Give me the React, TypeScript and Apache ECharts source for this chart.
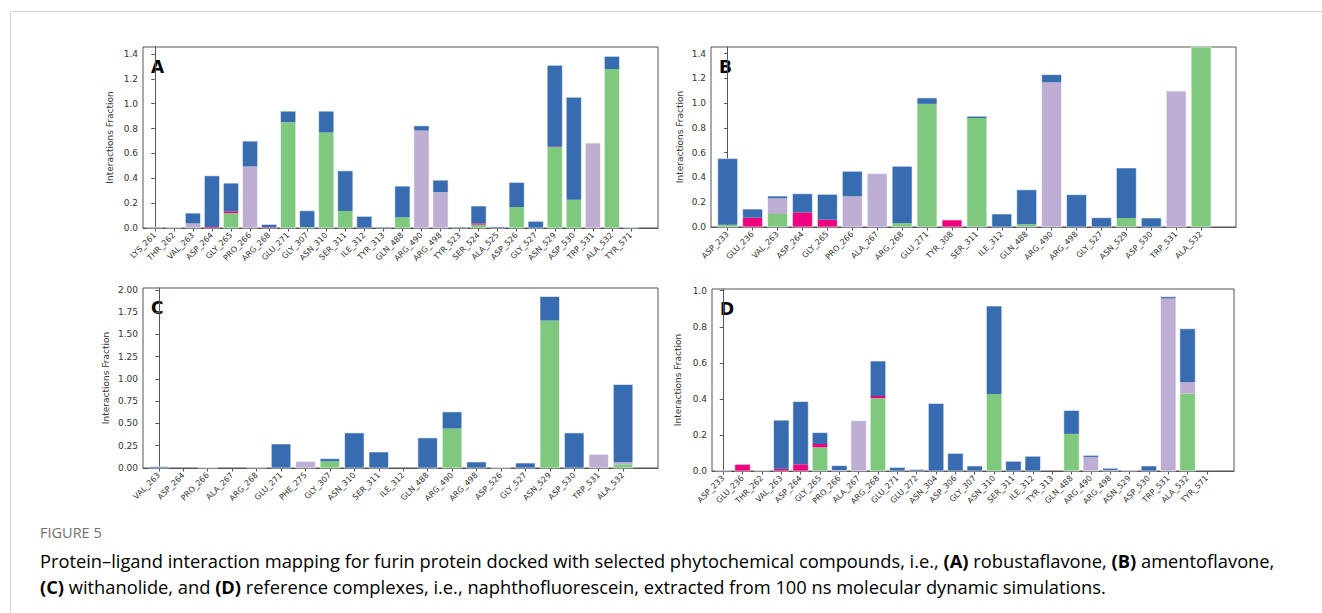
import React, { useEffect, useRef } from 'react';
import * as echarts from 'echarts';

// ---------- DATA ----------
const catsA = ['LYS_261','THR_262','VAL_263','ASP_264','GLY_265','PRO_266','ARG_268','GLU_271','GLY_307','ASN_310','SER_311','ILE_312','TYR_313','GLN_488','ARG_490','ARG_498','TYR_523','SER_524','ALA_525','ASP_526','GLY_527','ASN_529','ASP_530','TRP_531','ALA_532','TYR_571'];
const hbondA = [0,0,0,0,0.12,0,0,0.851,0.008,0.768,0.137,0,0,0.086,0,0,0,0.027,0,0.169,0,0.65,0.228,0,1.279,0];
const ionicA = [0,0,0,0.008,0.014,0,0.005,0,0,0,0,0,0,0,0,0,0,0.01,0,0,0,0.004,0,0,0,0];
const hydroA = [0,0,0.037,0,0,0.495,0,0,0,0,0,0,0,0,0.784,0.289,0,0,0,0,0,0,0,0.683,0,0];
const waterA = [0.007,0.005,0.083,0.412,0.227,0.204,0.024,0.089,0.131,0.172,0.323,0.094,0.008,0.251,0.038,0.096,0.008,0.14,0.01,0.198,0.054,0.655,0.824,0,0.102,0.005];

const catsB = ['ASP_233','GLU_236','VAL_263','ASP_264','GLY_265','PRO_266','ALA_267','ARG_268','GLU_271','TYR_308','SER_311','ILE_312','GLN_488','ARG_490','ARG_498','GLY_527','ASN_529','ASP_530','TRP_531','ALA_532'];
const hbondB = [0.019,0,0.105,0,0,0,0,0.03,0.994,0,0.88,0,0.022,0,0,0,0.073,0,0,1.5];
const ionicB = [0,0.075,0,0.118,0.059,0,0,0,0,0.057,0,0,0,0,0,0,0,0,0,0];
const hydroB = [0,0,0.127,0,0,0.248,0.431,0,0,0,0,0,0,1.168,0,0,0,0,1.098,0];
const waterB = [0.533,0.07,0.018,0.151,0.205,0.202,0,0.46,0.048,0,0.014,0.105,0.278,0.062,0.261,0.075,0.404,0.073,0,0];

const catsC = ['VAL_263','ASP_264','PRO_266','ALA_267','ARG_268','GLU_271','PHE_275','GLY_307','ASN_310','SER_311','ILE_312','GLN_488','ARG_490','ARG_498','ASP_526','GLY_527','ASN_529','ASP_530','TRP_531','ALA_532'];
const hbondC = [0,0,0,0,0,0,0,0.075,0,0,0,0,0.443,0,0,0,1.655,0,0,0.041];
const ionicC = [0,0,0,0,0,0,0,0,0,0,0,0,0,0,0,0,0,0,0,0];
const hydroC = [0,0,0.008,0,0,0,0.075,0,0,0,0,0,0,0,0,0,0,0,0.154,0.023];
const waterC = [0.015,0,0,0,0.008,0.27,0,0.03,0.394,0.18,0,0.338,0.187,0.068,0.004,0.056,0.27,0.394,0,0.874];

const catsD = ['ASP_233','GLU_236','THR_262','VAL_263','ASP_264','GLY_265','PRO_266','ALA_267','ARG_268','GLU_271','GLU_272','ASN_304','ASP_306','GLY_307','ASN_310','SER_311','ILE_312','TYR_313','GLN_488','ARG_490','ARG_498','ASN_529','ASP_530','TRP_531','ALA_532','TYR_571'];
const hbondD = [0,0,0,0,0,0.132,0,0,0.404,0,0,0,0,0,0.427,0,0,0,0.206,0,0,0,0,0,0.43,0];
const ionicD = [0,0.037,0,0.012,0.037,0.018,0,0,0.012,0,0,0,0,0,0,0,0,0,0,0,0,0,0,0,0,0];
const hydroD = [0,0,0,0,0,0,0.005,0.275,0,0,0,0,0,0,0,0,0,0,0,0.078,0.005,0,0,0.957,0.062,0];
const waterD = [0.004,0,0.003,0.27,0.349,0.063,0.025,0.003,0.194,0.02,0.009,0.375,0.098,0.028,0.488,0.054,0.082,0,0.13,0.009,0.01,0.004,0.028,0.01,0.297,0];

const ticksA = [0, 0.2, 0.4, 0.6, 0.8, 1.0, 1.2, 1.4];
const ticksB = [0, 0.2, 0.4, 0.6, 0.8, 1.0, 1.2, 1.4];
const ticksC = [0, 0.25, 0.5, 0.75, 1.0, 1.25, 1.5, 1.75, 2.0];
const ticksD = [0, 0.2, 0.4, 0.6, 0.8, 1.0];

const COLORS = ['#7fc97f', '#f0027f', '#beaed4', '#386cb0'];
const FONT = 'DejaVu Sans';

const panels = [
  { letter: 'A', cats: catsA, s: [hbondA, ionicA, hydroA, waterA], ticks: ticksA, dec: 1, ymax: 1.456,
    left: 143, top: 47, width: 515, height: 181, xl: 0.62, xr: 1.42, nameGap: 29 },
  { letter: 'B', cats: catsB, s: [hbondB, ionicB, hydroB, waterB], ticks: ticksB, dec: 1, ymax: 1.453,
    left: 711, top: 47, width: 525, height: 180, xl: 0.67, xr: 1.4, nameGap: 27 },
  { letter: 'C', cats: catsC, s: [hbondC, ionicC, hydroC, waterC], ticks: ticksC, dec: 2, ymax: 2.02,
    left: 143, top: 288, width: 515, height: 180, xl: 0.65, xr: 1.43, nameGap: 33 },
  { letter: 'D', cats: catsD, s: [hbondD, ionicD, hydroD, waterD], ticks: ticksD, dec: 1, ymax: 1.0095,
    left: 712, top: 289, width: 522, height: 182, xl: 0.58, xr: 1.4, nameGap: 30 },
];

export default function App() {
  const ref = useRef<HTMLDivElement>(null);
  useEffect(() => {
    if (!ref.current) return;
    const chart = echarts.init(ref.current, null, { renderer: 'svg' });
    const grid: any[] = [];
    const xAxis: any[] = [];
    const yAxis: any[] = [];
    const series: any[] = [];
    const graphic: any[] = [];
    panels.forEach((p, gi) => {
      const n = p.cats.length;
      const idx = p.cats.map((_, i) => i);
      grid.push({ left: p.left, top: p.top, width: p.width, height: p.height, show: true,
        borderColor: '#555', borderWidth: 1, backgroundColor: 'transparent', containLabel: false });
      xAxis.push({
        type: 'value', gridIndex: gi, min: -p.xl, max: n - 1 + p.xr,
        splitLine: { show: false },
        axisLine: { show: true, lineStyle: { color: '#555', width: 1 } },
        axisTick: { show: true, length: 3.5, lineStyle: { color: '#555' }, customValues: idx },
        axisLabel: { show: true, customValues: idx, rotate: 45, fontSize: 8, fontFamily: FONT, color: '#333', margin: 6,
          formatter: (v: number) => p.cats[Math.round(v)] ?? '' },
      });
      yAxis.push({
        type: 'value', gridIndex: gi, min: 0, max: p.ymax,
        name: 'Interactions Fraction', nameLocation: 'middle', nameGap: p.nameGap,
        nameTextStyle: { fontSize: 9, fontFamily: FONT, color: '#333' },
        splitLine: { show: false },
        axisLine: { show: true, lineStyle: { color: '#555', width: 1 } },
        axisTick: { show: true, length: 3.5, lineStyle: { color: '#555' }, customValues: p.ticks },
        axisLabel: { show: true, customValues: p.ticks, fontSize: 9, fontFamily: FONT, color: '#333', margin: 5,
          formatter: (v: number) => v.toFixed(p.dec) },
      });
      const data = p.cats.map((_, i) => [i, p.s[0][i], p.s[1][i], p.s[2][i], p.s[3][i]]);
      series.push({
        type: 'custom', xAxisIndex: gi, yAxisIndex: gi,
        dimensions: ['x', 'hb', 'io', 'hy', 'wb'],
        encode: { x: 0, y: [1, 2, 3, 4] },
        data,
        renderItem: (params: any, api: any) => {
          const x = api.value(0);
          const bw = api.size([0.8, 0])[0];
          const cs = params.coordSys;
          const children: any[] = [];
          let base = 0;
          let bottomPx = 0;
          let topPx = 0;
          for (let k = 0; k < 4; k++) {
            const v = api.value(k + 1);
            if (!(v > 0)) continue;
            const p0 = api.coord([x, base]);
            const p1 = api.coord([x, base + v]);
            const yTop = Math.max(p1[1], cs.y);
            if (base === 0) bottomPx = p0[1];
            topPx = yTop;
            children.push({ type: 'rect', shape: { x: p0[0] - bw / 2, y: yTop, width: bw, height: Math.max(p0[1] - yTop, 0) },
              style: { fill: COLORS[k] } });
            base += v;
          }
          if (base > 0) {
            const c = api.coord([x, 0]);
            children.push({ type: 'rect', shape: { x: c[0] - bw / 2, y: topPx, width: bw, height: bottomPx - topPx },
              style: { fill: 'none', stroke: 'rgba(255,255,255,0.6)', lineWidth: 1 } });
          }
          return { type: 'group', children };
        },
      });
      graphic.push({ type: 'text', x: p.left + 8, y: p.top + 20,
        style: { text: p.letter, font: 'bold 17px "DejaVu Sans"', fill: '#000', textVerticalAlign: 'middle' } });
    });

    graphic.push({ type: 'line', shape: { x1: 10.5, y1: 11.5, x2: 1322, y2: 11.5 }, style: { stroke: '#d4d4d4', lineWidth: 1 } });
    graphic.push({ type: 'line', shape: { x1: 10.5, y1: 11.5, x2: 10.5, y2: 613 }, style: { stroke: '#d4d4d4', lineWidth: 1 } });
    const CAP = 'Open Sans';
    graphic.push({ type: 'text', x: 40, y: 532,
      style: { text: 'FIGURE 5', fontSize: 14.5, fontFamily: CAP, fill: '#707070', textVerticalAlign: 'middle' } });
    const rich = {
      n: { fontSize: 18.3, fontFamily: CAP, color: '#606060' },
      b: { fontSize: 18.3, fontFamily: CAP, color: '#505050', fontWeight: 'bold' },
    };
    graphic.push({ type: 'text', x: 40, y: 560,
      style: { text: '{n|Protein\u2013ligand interaction mapping for furin protein docked with selected phytochemical compounds, i.e., }{b|(A)}{n| robustaflavone, }{b|(B)}{n| amentoflavone,}',
        rich, textVerticalAlign: 'middle' } });
    graphic.push({ type: 'text', x: 40, y: 586,
      style: { text: '{b|(C)}{n| withanolide, and }{b|(D)}{n| reference complexes, i.e., naphthofluorescein, extracted from 100 ns molecular dynamic simulations.}',
        rich, textVerticalAlign: 'middle' } });

    chart.setOption({ animation: false, backgroundColor: '#fff', grid, xAxis, yAxis, series, graphic });
    return () => chart.dispose();
  }, []);
  return <div ref={ref} style={{ position: 'fixed', left: 0, top: 0, width: 1322, height: 613 }} />;
}
